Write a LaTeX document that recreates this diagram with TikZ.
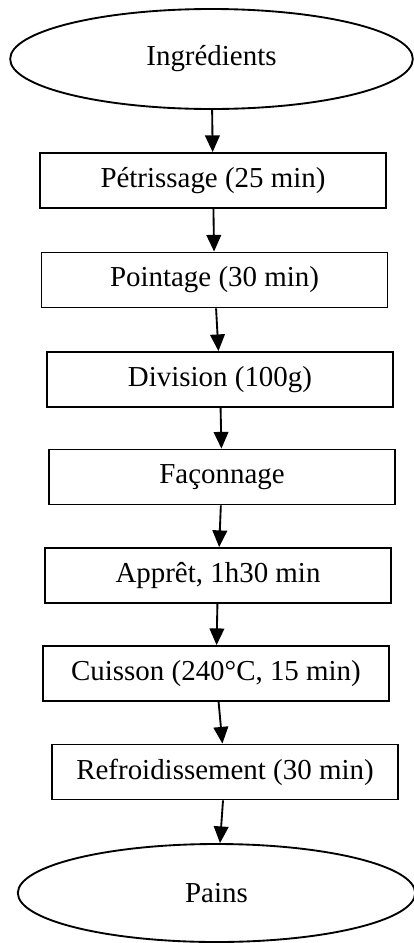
\documentclass[tikz,border=0pt]{standalone}
\usepackage{fontspec}
\setmainfont{Liberation Serif}
\usetikzlibrary{shapes.geometric,arrows.meta}

\begin{document}
\begin{tikzpicture}[x=0.75pt,y=-0.75pt,
  every node/.style={font=\fontsize{21.7}{26}\selectfont,inner sep=0pt},
  etape/.style={draw,line width=1.4pt,minimum width=259.5pt,minimum height=41.25pt},
  terme/.style={draw,ellipse,line width=1.4pt},
  fleche/.style={line width=1.4pt,-{Triangle[width=11pt,length=12.5pt]}}]
\useasboundingbox (0,0) rectangle (414,943);
\node[terme,minimum width=302pt,minimum height=75pt] (ing) at (211.5,59) {Ingrédients};
\node[etape] (p1) at (213,180.5) {Pétrissage (25 min)};
\node[etape] (p2) at (214.5,280) {Pointage (30 min)};
\node[etape] (p3) at (220,379.5) {Division (100g)};
\node[etape] (p4) at (222,477) {Façonnage};
\node[etape] (p5) at (218,575.5) {Apprêt, 1h30 min};
\node[etape] (p6) at (216,673.5) {Cuisson (240°C, 15 min)};
\node[etape] (p7) at (225,772) {Refroidissement (30 min)};
\node[terme,minimum width=298pt,minimum height=73.5pt] (pains) at (216.5,893) {Pains};
\foreach \a/\b in {ing/p1,p1/p2,p2/p3,p3/p4,p4/p5,p5/p6,p6/p7,p7/pains}
  \draw[fleche] (\a) -- (\b);
\end{tikzpicture}
\end{document}
